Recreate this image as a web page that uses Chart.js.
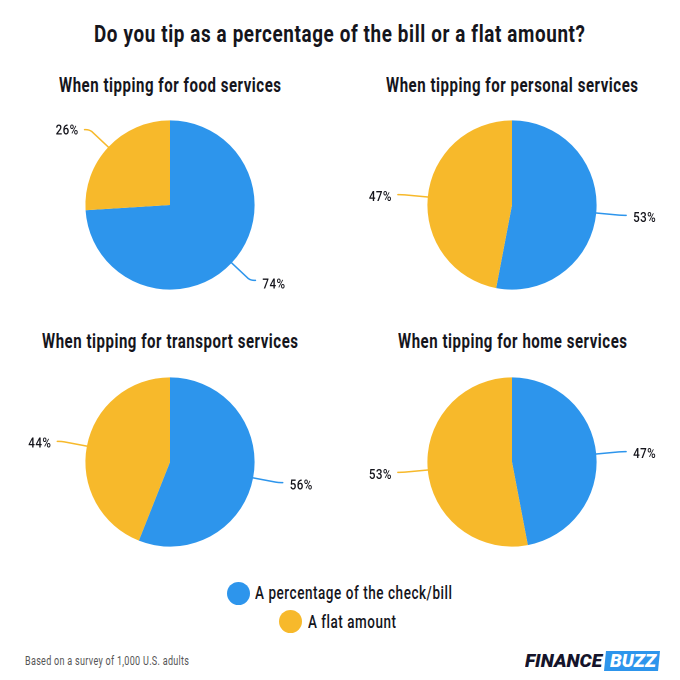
<!DOCTYPE html>
<html><head><meta charset="utf-8">
<script src="https://cdn.jsdelivr.net/npm/chart.js@4"></script>
<style>
html,body{margin:0;padding:0;background:#fff;width:680px;height:680px;overflow:hidden;font-family:Roboto,sans-serif}
canvas{position:absolute;display:block}
.t{position:absolute;white-space:nowrap;transform-origin:0 50%;line-height:1;color:#15151c}
.dot{position:absolute;border-radius:50%}
#box{position:absolute;left:604px;top:651px;width:56px;height:20px;background:#2d95ec;clip-path:polygon(2px 0,100% 0,54px 100%,0 100%)}
</style></head><body>
<script>
const seriesNames = ["A percentage of the check/bill", "A flat amount"];
const seriesColors = ["#2D95EC", "#F7B92B"];
const panelTitles = ["When tipping for food services", "When tipping for personal services", "When tipping for transport services", "When tipping for home services"];
const percentageValues = [74, 53, 56, 47];
const flatValues = [26, 47, 44, 53];

const INK = "#15151c";
function text(str, x0, x1, yc, font, spacing, color) {
  const el = document.createElement("div");
  el.className = "t";
  el.textContent = str;
  el.style.font = font;
  el.style.lineHeight = "1";
  el.style.letterSpacing = spacing + "px";
  if (color) el.style.color = color;
  document.body.appendChild(el);
  const r = el.getBoundingClientRect();
  el.style.left = x0 + "px";
  el.style.top = (yc - r.height / 2) + "px";
  el.style.transform = "scaleX(" + ((x1 - x0) / (r.width - spacing)) + ")";
}
const leaderPlugin = {
  id: "leaders",
  afterDatasetsDraw(chart) {
    const ctx = chart.ctx;
    const ds = chart.data.datasets[0];
    chart.getDatasetMeta(0).data.forEach((arc, i) => {
      const p = arc.getProps(["x", "y", "startAngle", "endAngle", "outerRadius"], true);
      const a = (p.startAngle + p.endAngle) / 2;
      const cx = Math.cos(a), sy = Math.sin(a);
      const sx = p.x + cx * p.outerRadius, sty = p.y + sy * p.outerRadius;
      const ex = p.x + cx * (p.outerRadius + 23), ey = p.y + sy * (p.outerRadius + 23);
      const dir = cx >= 0 ? 1 : -1;
      ctx.save();
      ctx.strokeStyle = seriesColors[i];
      ctx.lineWidth = 1.5;
      ctx.lineJoin = "round";
      ctx.lineCap = "round";
      ctx.beginPath();
      ctx.moveTo(sx, sty);
      ctx.lineTo(ex, ey);
      ctx.quadraticCurveTo(ex + dir * 3, ey + sy * 3, ex + dir * 7, ey + sy * 2.5);
      ctx.stroke();
      const label = ds.data[i] + "%";
      ctx.font = "500 14px Roboto";
      ctx.letterSpacing = "0.5px";
      ctx.fillStyle = INK;
      ctx.textBaseline = "middle";
      ctx.textAlign = "left";
      const w = ctx.measureText(label).width;
      const k = 23 / w;
      const tx = dir > 0 ? ex + 7 + 7 : ex - 7 - 6 - 23;
      ctx.translate(tx, ey + sy * 5 + 3);
      ctx.scale(k, 1);
      ctx.fillText(label, 0, 0);
      ctx.restore();
    });
  }
};
const panels = [[0, 115], [342, 115], [0, 372], [342, 372]];
panels.forEach((pos, i) => {
  const c = document.createElement("canvas");
  const w = 340;
  c.style.left = pos[0] + "px";
  c.style.top = pos[1] + "px";
  c.style.width = w + "px";
  c.style.height = "180px";
  c.width = w;
  c.height = 180;
  document.body.appendChild(c);
  new Chart(c, {
    type: "pie",
    data: { labels: seriesNames, datasets: [{ data: [percentageValues[i], flatValues[i]], backgroundColor: seriesColors, borderWidth: 0 }] },
    options: {
      responsive: false, animation: false, devicePixelRatio: 2,
      radius: 84.6,
      plugins: { legend: { display: false }, tooltip: { enabled: false } }
    },
    plugins: [leaderPlugin]
  });
});

document.fonts.load("700 22px Roboto").finally(() => {
  text("Do you tip as a percentage of the bill or a flat amount?", 94, 585, 33.5, "700 24px Roboto", 0.8);
  const heads = [[59, 281, 86], [386, 638, 86], [42, 298, 342], [398, 627, 342]];
  heads.forEach((h, i) => text(panelTitles[i], h[0], h[1], h[2], "700 19.5px Roboto", 0.7));
  const lg = [[238.5, 593, 255, 452], [290, 621.5, 308, 396]];
  lg.forEach((g, i) => {
    const d = document.createElement("div");
    d.className = "dot";
    d.style.cssText = "left:" + (g[0] - 11.5) + "px;top:" + (g[1] - 11.5) + "px;width:23px;height:23px;background:" + seriesColors[i];
    document.body.appendChild(d);
    text(seriesNames[i], g[2], g[3], g[1] + 1, "500 17.5px Roboto", 0.7);
  });
  text("Based on a survey of 1,000 U.S. adults", 25, 189, 661, "400 12px Roboto", 0.4, "#555");
  const box = document.createElement("div"); box.id = "box"; document.body.appendChild(box);
  text("FINANCE", 525, 602, 661, "italic 900 18px Roboto", 0, "#14142b");
  text("BUZZ", 610, 656, 661, "italic 900 18px Roboto", 0, "#fff");
});
</script>
</body></html>
